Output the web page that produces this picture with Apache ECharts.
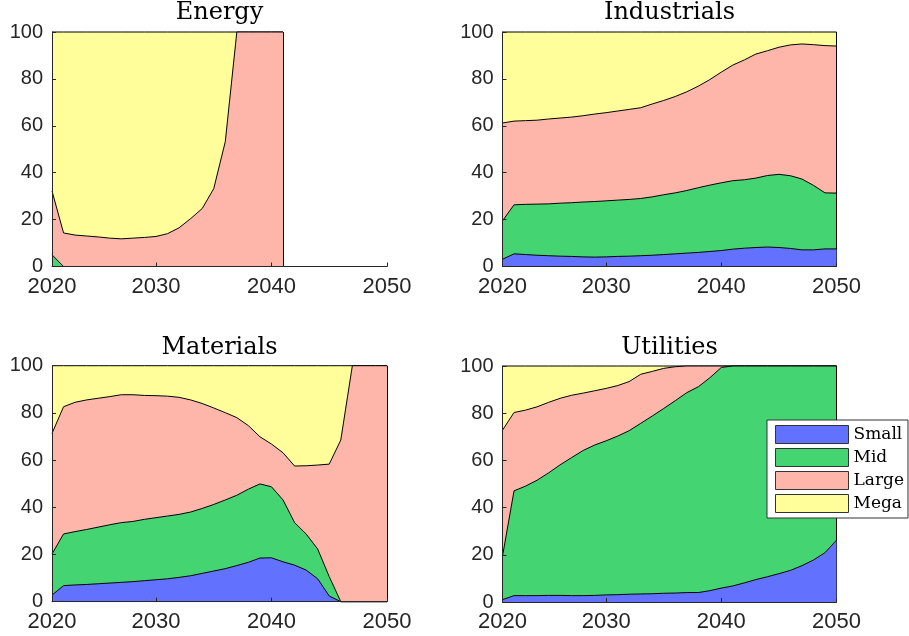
<!DOCTYPE html>
<html><head><meta charset="utf-8">
<script src="https://cdn.jsdelivr.net/npm/echarts@6/dist/echarts.min.js"></script>
<style>html,body{margin:0;padding:0;background:#fff}#c{width:909px;height:636px}</style>
</head><body><div id="c"></div>
<script>
// ---------- data ----------
const years = [2021,2022,2023,2024,2025,2026,2027,2028,2029,2030,2031,2032,2033,2034,2035,2036,2037,2038,2039,2040,2041,2042,2043,2044,2045,2046,2047,2048,2049,2050];
const xTickValues = [2021, 2030, 2040, 2050];
const xTickLabels = ['2020', '2030', '2040', '2050'];
const seriesNames = ['Small', 'Mid', 'Large', 'Mega'];
const panelTitles = ['Energy', 'Industrials', 'Materials', 'Utilities'];

// Energy (no data after 2041)
const energySmall = [0,0,0,0,0,0,0,0,0,0,0,0,0,0,0,0,0,0,0,0,0,null,null,null,null,null,null,null,null,null];
const energyMid   = [5,0,0,0,0,0,0,0,0,0,0,0,0,0,0,0,0,0,0,0,0,null,null,null,null,null,null,null,null,null];
const energyLarge = [27.2,14.3,13.4,13.0,12.6,12.1,11.8,12.1,12.4,12.8,14.0,16.5,20.4,24.7,33.2,53.2,100,100,100,100,100,null,null,null,null,null,null,null,null,null];
const energyMega  = [67.8,85.7,86.6,87.0,87.4,87.9,88.2,87.9,87.6,87.2,86.0,83.5,79.6,75.3,66.8,46.8,0,0,0,0,0,null,null,null,null,null,null,null,null,null];

// Industrials
const industrialsSmall = [3.1,5.4,5.1,4.8,4.6,4.4,4.3,4.1,4.0,4.1,4.3,4.4,4.6,4.8,5.1,5.4,5.7,6.0,6.4,6.8,7.4,7.8,8.1,8.3,8.1,7.7,7.1,7.1,7.5,7.5];
const industrialsMid   = [16.4,20.9,21.4,21.8,22.1,22.6,22.9,23.4,23.7,23.9,24.0,24.2,24.4,24.9,25.5,26.0,26.7,27.6,28.3,28.9,29.2,29.2,29.6,30.5,31.2,31.0,30.2,27.5,23.9,23.8];
const industrialsLarge = [41.7,35.7,35.7,35.8,36.2,36.3,36.5,36.8,37.3,37.6,38.0,38.4,38.7,39.6,40.2,41.1,42.1,43.3,45.0,47.2,49.3,51.1,52.9,53.2,54.2,55.8,57.6,60.0,62.8,62.7];
const industrialsMega  = [38.8,38.0,37.8,37.6,37.1,36.7,36.3,35.7,35.0,34.4,33.7,33.0,32.3,30.7,29.2,27.5,25.5,23.1,20.3,17.1,14.1,11.9,9.4,8.0,6.5,5.5,5.1,5.4,5.8,6.0];

// Materials
const materialsSmall = [2.8,6.8,7.1,7.3,7.6,7.9,8.2,8.5,8.9,9.3,9.7,10.3,11.0,12.0,13.0,14.0,15.3,16.7,18.5,18.6,16.9,15.5,13.4,9.7,2.4,0,0,0,0,0];
const materialsMid   = [17.4,21.9,22.6,23.3,24.0,24.7,25.3,25.5,26.0,26.3,26.6,26.7,27.0,27.5,28.2,29.1,29.8,31.0,31.4,30.1,26.2,18.0,15.3,12.6,8.2,0,0,0,0,0];
const materialsLarge = [51.1,53.9,54.8,54.9,54.6,54.3,54.2,53.7,52.5,51.7,50.8,49.6,47.5,44.5,40.9,37.0,32.9,26.9,20.0,18.1,20.0,24.0,28.9,35.6,47.7,68.5,100,100,100,100];
const materialsMega  = [28.7,17.4,15.5,14.5,13.8,13.1,12.3,12.3,12.6,12.7,12.9,13.4,14.5,16.0,17.9,19.9,22.0,25.4,30.1,33.2,36.9,42.5,42.4,42.1,41.7,31.5,0,0,0,0];

// Utilities
const utilitiesSmall = [1.0,2.7,2.7,2.7,2.8,2.8,2.7,2.7,2.8,3.0,3.1,3.3,3.4,3.5,3.7,3.8,4.0,4.0,4.8,5.9,6.8,8.1,9.5,10.7,12.0,13.4,15.4,17.8,20.9,26.2];
const utilitiesMid   = [18.4,44.4,46.4,48.9,51.9,55.3,58.5,61.5,63.7,65.3,67.2,69.3,72.3,75.3,78.3,81.5,84.7,87.2,90.2,93.5,93.2,91.9,90.5,89.3,88.0,86.6,84.6,82.2,79.1,73.8];
const utilitiesLarge = [53.4,33.2,32.2,31.1,29.9,28.2,26.4,24.3,23.0,22.2,21.4,20.8,20.8,18.9,17.0,14.4,11.3,8.8,5.0,0.6,0,0,0,0,0,0,0,0,0,0];
const utilitiesMega  = [27.2,19.7,18.7,17.3,15.4,13.7,12.4,11.5,10.5,9.5,8.3,6.6,3.5,2.3,1.0,0.3,0,0,0,0,0,0,0,0,0,0,0,0,0,0];

// ---------- style / layout ----------
const fills = ['#6371ff', '#44d472', '#ffb6aa', '#fffe9a'];
const panels = [
  [energySmall, energyMid, energyLarge, energyMega],
  [industrialsSmall, industrialsMid, industrialsLarge, industrialsMega],
  [materialsSmall, materialsMid, materialsLarge, materialsMega],
  [utilitiesSmall, utilitiesMid, utilitiesLarge, utilitiesMega]
];
const gridBoxes = [
  {left: 52, top: 32, width: 335, height: 234.5},
  {left: 502.5, top: 32, width: 334, height: 234.5},
  {left: 52, top: 365.7, width: 335, height: 236},
  {left: 502.5, top: 366, width: 334, height: 236}
];
const titlePos = [
  {left: 219.5, top: 1}, {left: 669.5, top: 1},
  {left: 219.5, top: 336}, {left: 669.5, top: 336}
];
const axisColor = '#262626';
const categories = years.map(String);
const isTick = (idx, val) => xTickValues.indexOf(Number(val)) >= 0;

const option = {
  animation: false,
  backgroundColor: '#ffffff',
  title: panelTitles.map((t, i) => ({
    text: t, left: titlePos[i].left, top: titlePos[i].top, textAlign: 'center', padding: 0,
    textStyle: {fontFamily: 'DejaVu Serif', fontWeight: 'normal', fontSize: 24, color: '#000'}
  })),
  grid: gridBoxes.map(g => Object.assign({containLabel: false}, g)),
  xAxis: gridBoxes.map((g, i) => ({
    type: 'category', gridIndex: i, data: categories, boundaryGap: false, z: 10,
    axisLine: {show: true, lineStyle: {color: axisColor, width: 1}},
    axisTick: {show: true, inside: true, length: 4, interval: isTick, lineStyle: {color: axisColor}},
    axisLabel: {
      show: true, interval: isTick, margin: 9, showMaxLabel: true, showMinLabel: true,
      fontFamily: 'Liberation Sans', fontSize: 22, color: axisColor,
      formatter: v => xTickLabels[xTickValues.indexOf(Number(v))]
    },
    splitLine: {show: false}
  })),
  yAxis: gridBoxes.map((g, i) => ({
    type: 'value', gridIndex: i, min: 0, max: 100, interval: 20, z: 10,
    axisLine: {show: true, lineStyle: {color: axisColor, width: 1}},
    axisTick: {show: true, inside: true, length: 4, lineStyle: {color: axisColor}},
    axisLabel: {show: true, margin: 9, fontFamily: 'Liberation Sans', fontSize: 20, color: axisColor},
    splitLine: {show: false}
  })),
  legend: {
    z: 30,
    data: seriesNames.map(n => ({name: n, icon: 'rect'})),
    orient: 'vertical', left: 767, top: 420, align: 'left',
    icon: 'rect', symbolKeepAspect: false,
    itemWidth: 73, itemHeight: 18, itemGap: 4,
    padding: [5, 4, 5, 8],
    backgroundColor: '#ffffff', borderColor: '#333333', borderWidth: 1, borderRadius: 0,
    selectedMode: false,
    itemStyle: {borderColor: '#333333', borderWidth: 1},
    textStyle: {fontFamily: 'DejaVu Serif', fontSize: 17, color: '#000'}
  },
  series: []
};

panels.forEach((arrs, p) => {
  const megaArr = arrs[3];
  let lastIdx = 0;
  megaArr.forEach((v, k) => { if (v !== null) lastIdx = k; });
  arrs.forEach((arr, s) => {
    const ser = {
      name: seriesNames[s], type: 'line', stack: 'panel' + p,
      xAxisIndex: p, yAxisIndex: p, z: 5 - s,
      data: arr.slice(),
      symbol: 'none', showSymbol: false, clip: false, silent: true,
      itemStyle: {color: fills[s]},
      lineStyle: {color: '#000', width: 1},
      areaStyle: {color: fills[s], opacity: 1},
      emphasis: {disabled: true}
    };
    if (s === 3) {
      ser.markLine = {
        silent: true, symbol: 'none', label: {show: false},
        lineStyle: {color: '#000', width: 1, type: 'solid'},
        data: [{xAxis: categories[lastIdx]}]
      };
    }
    option.series.push(ser);
  });
});

const chart = echarts.init(document.getElementById('c'), null, {renderer: 'canvas'});
chart.setOption(option);
</script>
</body></html>
